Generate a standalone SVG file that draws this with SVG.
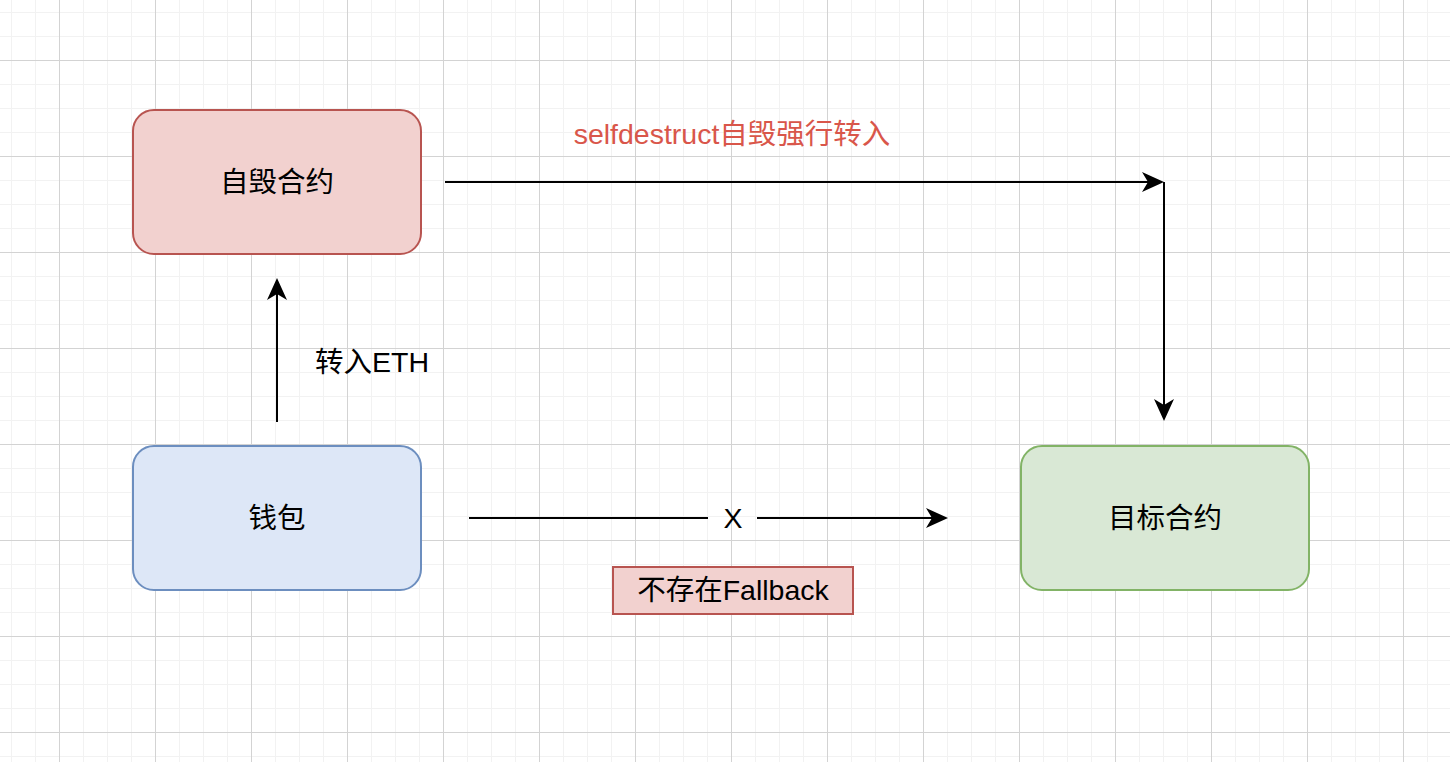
<svg xmlns="http://www.w3.org/2000/svg" width="1450" height="762" viewBox="0 0 1450 762">
<style>
.minor{stroke:#f2f2f2;stroke-width:1;fill:none}
.major{stroke:#d3d3d3;stroke-width:1;fill:none}
.box{stroke-width:2}
.t{font-family:"Liberation Sans","Noto Sans CJK SC",sans-serif;font-size:28.5px;fill:#000}
.c{text-anchor:middle;dominant-baseline:central}
.edge{stroke:#000;stroke-width:2;fill:none}
</style>
<defs>
<marker id="arr" markerUnits="userSpaceOnUse" markerWidth="24" markerHeight="24" viewBox="0 0 24 24" refX="6" refY="11" orient="auto">
<path d="M22,11 L0,1 L6,11 L0,21 Z" fill="#000"/>
</marker>
</defs>
<rect width="1450" height="762" fill="#fff"/>
<g id="grid">
<path class="minor" d="M11.5 0V762M35.5 0V762M83.5 0V762M107.5 0V762M131.5 0V762M179.5 0V762M203.5 0V762M227.5 0V762M275.5 0V762M299.5 0V762M323.5 0V762M371.5 0V762M395.5 0V762M419.5 0V762M467.5 0V762M491.5 0V762M515.5 0V762M563.5 0V762M587.5 0V762M611.5 0V762M659.5 0V762M683.5 0V762M707.5 0V762M755.5 0V762M779.5 0V762M803.5 0V762M851.5 0V762M875.5 0V762M899.5 0V762M947.5 0V762M971.5 0V762M995.5 0V762M1043.5 0V762M1067.5 0V762M1091.5 0V762M1139.5 0V762M1163.5 0V762M1187.5 0V762M1235.5 0V762M1259.5 0V762M1283.5 0V762M1331.5 0V762M1355.5 0V762M1379.5 0V762M1427.5 0V762M0 12.5H1450M0 36.5H1450M0 84.5H1450M0 108.5H1450M0 132.5H1450M0 180.5H1450M0 204.5H1450M0 228.5H1450M0 276.5H1450M0 300.5H1450M0 324.5H1450M0 372.5H1450M0 396.5H1450M0 420.5H1450M0 468.5H1450M0 492.5H1450M0 516.5H1450M0 564.5H1450M0 588.5H1450M0 612.5H1450M0 660.5H1450M0 684.5H1450M0 708.5H1450M0 756.5H1450"/>
<path class="major" d="M59.5 0V762M155.5 0V762M251.5 0V762M347.5 0V762M443.5 0V762M539.5 0V762M635.5 0V762M731.5 0V762M827.5 0V762M923.5 0V762M1019.5 0V762M1115.5 0V762M1211.5 0V762M1307.5 0V762M1403.5 0V762M0 60.5H1450M0 156.5H1450M0 252.5H1450M0 348.5H1450M0 444.5H1450M0 540.5H1450M0 636.5H1450M0 732.5H1450"/>
</g>
<g id="connectors">
<path class="edge" d="M445 182H1148" marker-end="url(#arr)"/>
<path class="edge" d="M1164 182V405" marker-end="url(#arr)"/>
<path class="edge" d="M277 422V294" marker-end="url(#arr)"/>
<path class="edge" d="M469 518H708"/>
<path class="edge" d="M757 518H932" marker-end="url(#arr)"/>
</g>
<g id="selfdestruct-contract">
<rect class="box" x="133" y="110" width="288" height="144" rx="21" fill="#f2d1cf" stroke="#b85450"/>
<text class="t c" x="277" y="182">自毁合约</text>
</g>
<g id="wallet">
<rect class="box" x="133" y="446" width="288" height="144" rx="21" fill="#dde7f7" stroke="#6c8ebf"/>
<text class="t c" x="277" y="518">钱包</text>
</g>
<g id="target-contract">
<rect class="box" x="1021" y="446" width="288" height="144" rx="21" fill="#d9e8d5" stroke="#82b366"/>
<text class="t c" x="1165" y="518">目标合约</text>
</g>
<g id="labels">
<text class="t c" x="732" y="134" style="fill:#d9564a">selfdestruct自毁强行转入</text>
<text class="t" x="315" y="362" style="dominant-baseline:central">转入ETH</text>
<text class="t c" x="733" y="518">X</text>
</g>
<g id="no-fallback">
<rect class="box" x="613" y="567" width="240" height="47" fill="#f2d1cf" stroke="#b85450"/>
<text class="t c" x="733" y="590">不存在Fallback</text>
</g>
</svg>
